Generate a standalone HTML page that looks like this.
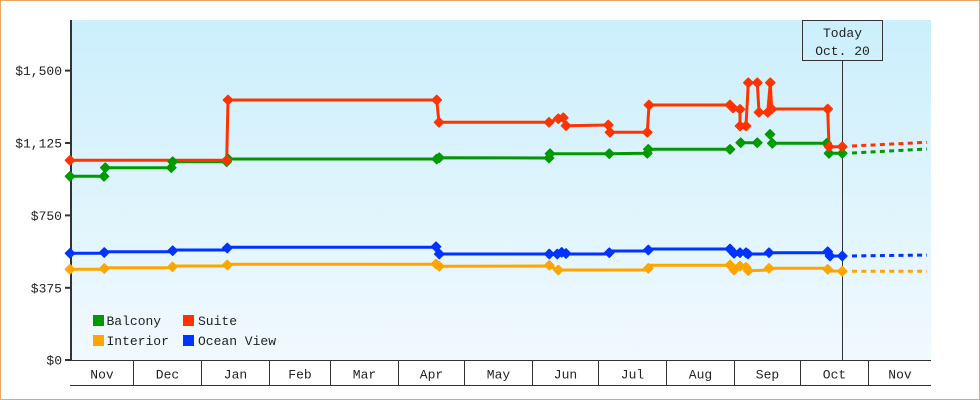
<!DOCTYPE html>
<html><head><meta charset="utf-8"><style>
html,body{margin:0;padding:0;background:#fff;}
svg{display:block;}
text{font-family:"Liberation Mono",monospace;font-size:13px;fill:#222;}
</style></head><body>
<svg width="980" height="400" viewBox="0 0 980 400" xmlns="http://www.w3.org/2000/svg">
<defs>
<linearGradient id="bg" x1="0" y1="0" x2="0" y2="1">
<stop offset="0" stop-color="#cbeffc"/>
<stop offset="1" stop-color="#f1f9fe"/>
</linearGradient>
</defs>
<rect x="0.5" y="0.5" width="979" height="399" fill="#fff" stroke="#e8a863" stroke-width="1"/>
<rect x="71" y="20" width="860" height="340" fill="url(#bg)"/>

<!-- y axis -->
<line x1="71" y1="20" x2="71" y2="361" stroke="#333" stroke-width="2"/>
<g stroke="#333" stroke-width="2">
<line x1="65" y1="360" x2="71" y2="360"/>
<line x1="65" y1="287.8" x2="71" y2="287.8"/>
<line x1="65" y1="215.4" x2="71" y2="215.4"/>
<line x1="65" y1="143" x2="71" y2="143"/>
<line x1="65" y1="70.6" x2="71" y2="70.6"/>
</g>
<g text-anchor="end">
<text x="62" y="364.5">$0</text>
<text x="62" y="292.3">$375</text>
<text x="62" y="219.9">$750</text>
<text x="62" y="147.5">$1,125</text>
<text x="62" y="75.1">$1,500</text>
</g>

<!-- x axis -->
<g stroke="#333" stroke-width="1">
<line x1="70" y1="360.5" x2="931" y2="360.5"/>
<line x1="70" y1="385.5" x2="931" y2="385.5"/>
<line x1="133.5" y1="360" x2="133.5" y2="385"/>
<line x1="201.5" y1="360" x2="201.5" y2="385"/>
<line x1="269.5" y1="360" x2="269.5" y2="385"/>
<line x1="330.5" y1="360" x2="330.5" y2="385"/>
<line x1="398.5" y1="360" x2="398.5" y2="385"/>
<line x1="464.5" y1="360" x2="464.5" y2="385"/>
<line x1="532.5" y1="360" x2="532.5" y2="385"/>
<line x1="598.5" y1="360" x2="598.5" y2="385"/>
<line x1="666.5" y1="360" x2="666.5" y2="385"/>
<line x1="734.5" y1="360" x2="734.5" y2="385"/>
<line x1="800.5" y1="360" x2="800.5" y2="385"/>
<line x1="868.5" y1="360" x2="868.5" y2="385"/>
</g>
<g text-anchor="middle">
<text x="102" y="378.3">Nov</text>
<text x="167.5" y="378.3">Dec</text>
<text x="235.5" y="378.3">Jan</text>
<text x="300" y="378.3">Feb</text>
<text x="364.5" y="378.3">Mar</text>
<text x="431.5" y="378.3">Apr</text>
<text x="498.5" y="378.3">May</text>
<text x="565.5" y="378.3">Jun</text>
<text x="632.5" y="378.3">Jul</text>
<text x="700.5" y="378.3">Aug</text>
<text x="767.5" y="378.3">Sep</text>
<text x="834.5" y="378.3">Oct</text>
<text x="900" y="378.3">Nov</text>
</g>

<!-- today marker -->
<line x1="842.5" y1="60" x2="842.5" y2="360" stroke="#333" stroke-width="1"/>
<rect x="802.5" y="20.5" width="80" height="40" fill="none" stroke="#333" stroke-width="1"/>
<text x="842.5" y="37" text-anchor="middle">Today</text>
<text x="842.5" y="55" text-anchor="middle">Oct. 20</text>

<!-- series lines -->
<g fill="none" stroke-width="3" stroke-linejoin="round">
<polyline stroke="#ffa500" points="70,269.3 104.3,269.3 105,267.7 172,267.7 173,266 227.3,266 228,264.3 436,264.3 439.3,266.3 549.3,266 558.3,270 648.3,270 649,265.3 730,265.3 734,270 740,266 746,267.3 748.3,270.7 769,270 770,268.3 827.7,268.3 830,271 842.3,271"/>
<polyline stroke="#0033ff" points="70,253.3 104.3,253.3 105,251.7 172.7,251.7 173.5,250 227.3,250 228,247.3 436,247.3 439.3,254 549.3,254 557.3,254 561.7,252.3 566,254 609.3,254 610,251 648.3,251 649,249 730,249 734,253.3 740,252.7 746,252.7 748,254 769,254 770,252.7 827.7,252.7 830,256 842.3,256"/>
<polyline stroke="#009900" points="70,176.3 104,176.3 105.3,167.7 171.3,167.7 172.7,161.7 226.7,161.7 228,159 436.7,159 439.3,157.7 549,158 550,153.7 609.3,153.7 647.3,153.3 648.3,149.3 730,149.3"/>
<polyline stroke="#009900" points="740.7,142.7 757.3,142.7"/>
<polyline stroke="#009900" points="772.3,143.3 826.7,143.3 829,153.3 842.3,153.3"/>
<polyline stroke="#ff3300" points="70,160.3 226.7,160.3 228,100 436.7,100 439,122.3 549,122.3 558.3,118.7 563.3,117.7 566,125.7 608.3,125 610,132.3 647.3,132.3 649,105 730,105 733,108 740,109.3 740,126 746,126 748.3,82.7 757.3,82.7 759,112.3 767.7,112.3 770.3,82.7 771.7,109 827.7,109 829,146.7 842.3,146.7"/>
</g>
<!-- projections -->
<g fill="none" stroke-width="3" stroke-dasharray="5,4.3">
<line x1="852" y1="146" x2="927" y2="142.3" stroke="#ff3300"/>
<line x1="852" y1="153" x2="927" y2="149" stroke="#009900"/>
<line x1="852" y1="256" x2="927" y2="255" stroke="#0033ff"/>
<line x1="852" y1="271.3" x2="927" y2="271.3" stroke="#ffa500"/>
</g>

<!-- markers -->
<g stroke-width="1.6" stroke-linejoin="round">
<path fill="#ffa500" stroke="#ffa500" d="M70 264.8l4.5 4.5-4.5 4.5-4.5-4.5zM104.3 264l4.5 4.5-4.5 4.5-4.5-4.5zM172.5 262.3l4.5 4.5-4.5 4.5-4.5-4.5zM227.3 260.5l4.5 4.5-4.5 4.5-4.5-4.5zM436 259.5l4.5 4.5-4.5 4.5-4.5-4.5zM439.3 261.8l4.5 4.5-4.5 4.5-4.5-4.5zM549.3 260.8l4.5 4.5-4.5 4.5-4.5-4.5zM558.3 265.5l4.5 4.5-4.5 4.5-4.5-4.5zM648.3 263.8l4.5 4.5-4.5 4.5-4.5-4.5zM730 260.5l4.5 4.5-4.5 4.5-4.5-4.5zM734 265.5l4.5 4.5-4.5 4.5-4.5-4.5zM740 261.5l4.5 4.5-4.5 4.5-4.5-4.5zM746 262.8l4.5 4.5-4.5 4.5-4.5-4.5zM748.3 266.2l4.5 4.5-4.5 4.5-4.5-4.5zM769 263.8l4.5 4.5-4.5 4.5-4.5-4.5zM827.7 264.8l4.5 4.5-4.5 4.5-4.5-4.5zM842.3 266.8l4.5 4.5-4.5 4.5-4.5-4.5z"/>
<path fill="#0033ff" stroke="#0033ff" d="M70 248.8l4.5 4.5-4.5 4.5-4.5-4.5zM104.3 248l4.5 4.5-4.5 4.5-4.5-4.5zM172.7 246.2l4.5 4.5-4.5 4.5-4.5-4.5zM227.3 243.5l4.5 4.5-4.5 4.5-4.5-4.5zM436 242.2l4.5 4.5-4.5 4.5-4.5-4.5zM439.3 249.5l4.5 4.5-4.5 4.5-4.5-4.5zM549.3 249.5l4.5 4.5-4.5 4.5-4.5-4.5zM557.3 249.5l4.5 4.5-4.5 4.5-4.5-4.5zM561.7 247.8l4.5 4.5-4.5 4.5-4.5-4.5zM566 249l4.5 4.5-4.5 4.5-4.5-4.5zM609.3 248.2l4.5 4.5-4.5 4.5-4.5-4.5zM648.3 245.5l4.5 4.5-4.5 4.5-4.5-4.5zM730 244.5l4.5 4.5-4.5 4.5-4.5-4.5zM734 248.8l4.5 4.5-4.5 4.5-4.5-4.5zM740 248.2l4.5 4.5-4.5 4.5-4.5-4.5zM746 248.2l4.5 4.5-4.5 4.5-4.5-4.5zM748 249.5l4.5 4.5-4.5 4.5-4.5-4.5zM769 248.2l4.5 4.5-4.5 4.5-4.5-4.5zM827.7 247.2l4.5 4.5-4.5 4.5-4.5-4.5zM830 251.5l4.5 4.5-4.5 4.5-4.5-4.5zM842.3 251.5l4.5 4.5-4.5 4.5-4.5-4.5z"/>
<path fill="#009900" stroke="#009900" d="M70 171.8l4.5 4.5-4.5 4.5-4.5-4.5zM104 171.8l4.5 4.5-4.5 4.5-4.5-4.5zM105.3 163.2l4.5 4.5-4.5 4.5-4.5-4.5zM171.3 163.2l4.5 4.5-4.5 4.5-4.5-4.5zM172.7 157.2l4.5 4.5-4.5 4.5-4.5-4.5zM226.7 157.2l4.5 4.5-4.5 4.5-4.5-4.5zM228 154.5l4.5 4.5-4.5 4.5-4.5-4.5zM436.7 154.5l4.5 4.5-4.5 4.5-4.5-4.5zM439.3 153.2l4.5 4.5-4.5 4.5-4.5-4.5zM549 153.5l4.5 4.5-4.5 4.5-4.5-4.5zM550 149.2l4.5 4.5-4.5 4.5-4.5-4.5zM609.3 149.2l4.5 4.5-4.5 4.5-4.5-4.5zM647.3 148.8l4.5 4.5-4.5 4.5-4.5-4.5zM648.3 144.8l4.5 4.5-4.5 4.5-4.5-4.5zM730 144.8l4.5 4.5-4.5 4.5-4.5-4.5zM740.7 138.2l4.5 4.5-4.5 4.5-4.5-4.5zM757.3 138.2l4.5 4.5-4.5 4.5-4.5-4.5zM770 129.8l4.5 4.5-4.5 4.5-4.5-4.5zM772.3 138.8l4.5 4.5-4.5 4.5-4.5-4.5zM826.7 138.8l4.5 4.5-4.5 4.5-4.5-4.5zM829 148.8l4.5 4.5-4.5 4.5-4.5-4.5zM842.3 148.8l4.5 4.5-4.5 4.5-4.5-4.5z"/>
<path fill="#ff3300" stroke="#ff3300" d="M70 155.8l4.5 4.5-4.5 4.5-4.5-4.5zM226.7 155.8l4.5 4.5-4.5 4.5-4.5-4.5zM228 95.5l4.5 4.5-4.5 4.5-4.5-4.5zM436.7 95.5l4.5 4.5-4.5 4.5-4.5-4.5zM439 117.8l4.5 4.5-4.5 4.5-4.5-4.5zM549 117.8l4.5 4.5-4.5 4.5-4.5-4.5zM558.3 114.2l4.5 4.5-4.5 4.5-4.5-4.5zM563.3 113.2l4.5 4.5-4.5 4.5-4.5-4.5zM566 121.2l4.5 4.5-4.5 4.5-4.5-4.5zM608.3 120.5l4.5 4.5-4.5 4.5-4.5-4.5zM610 127.8l4.5 4.5-4.5 4.5-4.5-4.5zM647.3 127.8l4.5 4.5-4.5 4.5-4.5-4.5zM649 100.5l4.5 4.5-4.5 4.5-4.5-4.5zM730 100.5l4.5 4.5-4.5 4.5-4.5-4.5zM733 103.5l4.5 4.5-4.5 4.5-4.5-4.5zM740 104.8l4.5 4.5-4.5 4.5-4.5-4.5zM740 121.5l4.5 4.5-4.5 4.5-4.5-4.5zM746 121.5l4.5 4.5-4.5 4.5-4.5-4.5zM748.3 78.2l4.5 4.5-4.5 4.5-4.5-4.5zM757.3 78.2l4.5 4.5-4.5 4.5-4.5-4.5zM759 107.8l4.5 4.5-4.5 4.5-4.5-4.5zM767.7 107.8l4.5 4.5-4.5 4.5-4.5-4.5zM770.3 78.2l4.5 4.5-4.5 4.5-4.5-4.5zM771.7 104.5l4.5 4.5-4.5 4.5-4.5-4.5zM827.7 104.5l4.5 4.5-4.5 4.5-4.5-4.5zM829 142.2l4.5 4.5-4.5 4.5-4.5-4.5zM842.3 142.2l4.5 4.5-4.5 4.5-4.5-4.5z"/>
</g>

<!-- legend -->
<rect x="93" y="315" width="11" height="11" fill="#009900"/>
<rect x="183" y="315" width="11" height="11" fill="#ff3300"/>
<rect x="93" y="335" width="11" height="11" fill="#ffa500"/>
<rect x="183" y="335" width="11" height="11" fill="#0033ff"/>
<text x="106.5" y="325">Balcony</text>
<text x="198" y="325">Suite</text>
<text x="106.5" y="345">Interior</text>
<text x="198" y="345">Ocean View</text>
</svg>
</body></html>
